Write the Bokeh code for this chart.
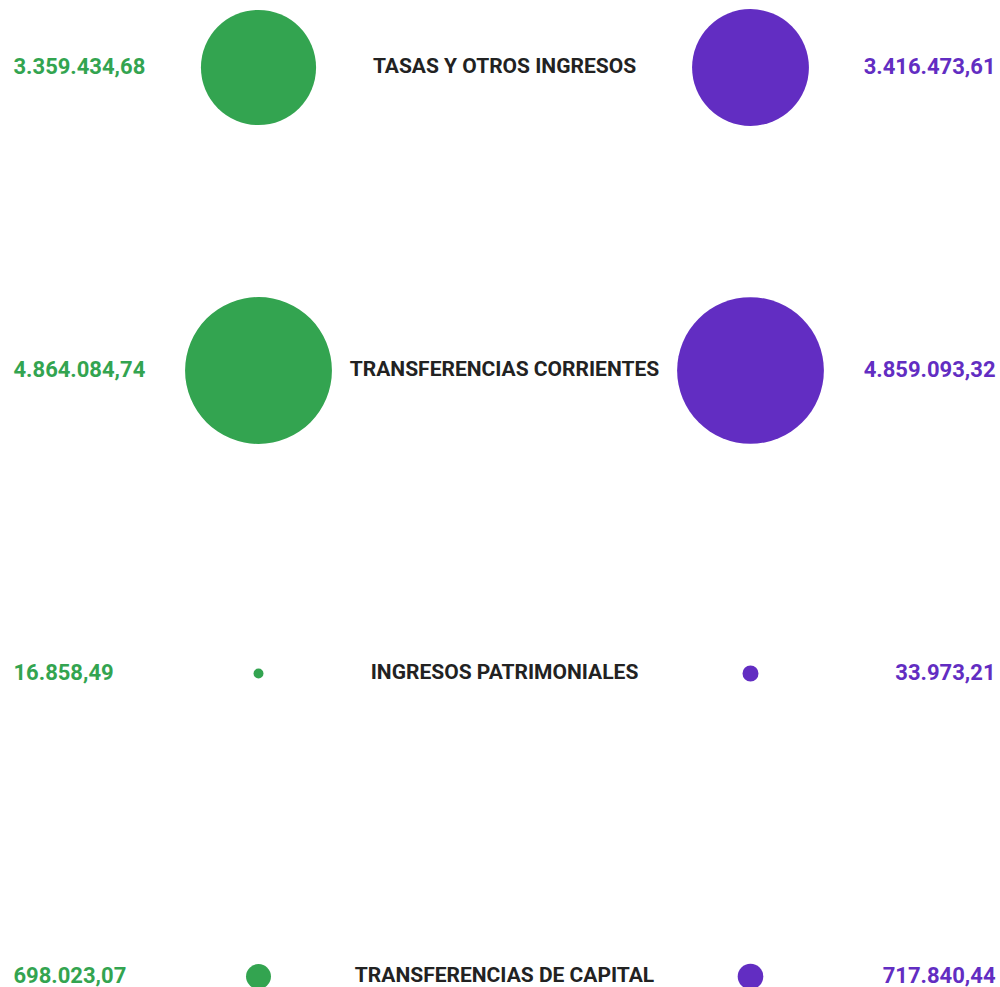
import numpy as np
from bokeh.plotting import figure
from bokeh.models import ColumnDataSource, Range1d
from bokeh.core.properties import value
from bokeh.embed import file_html
from bokeh.resources import INLINE

# ---------------- data ----------------
categories = ["TASAS Y OTROS INGRESOS", "TRANSFERENCIAS CORRIENTES",
              "INGRESOS PATRIMONIALES", "TRANSFERENCIAS DE CAPITAL"]
left_values = [3359434.68, 4864084.74, 16858.49, 698023.07]     # green series
right_values = [3416473.61, 4859093.32, 33973.21, 717840.44]    # purple series

# ---------------- styling / layout ----------------
GREEN = "#33a450"
PURPLE = "#622dc2"
DARK = "#222222"
FONT = "Roboto"

# polylinear size scale (value -> circle diameter in px)
SIZE_DOMAIN = [0, 34000, 700000, 3400000, 4870000]
SIZE_RANGE = [4, 16, 25, 116.5, 147]


def size_scale(v):
    return list(np.interp(np.asarray(v, dtype=float), SIZE_DOMAIN, SIZE_RANGE))


def fmt_es(v):
    s = f"{v:,.2f}"
    return s.replace(",", "X").replace(".", ",").replace("X", ".")


rows = list(range(len(categories)))
n = len(rows)

src = ColumnDataSource(dict(
    row=rows,
    cat=categories,
    lval=left_values,
    rval=right_values,
    ltxt=[fmt_es(v) for v in left_values],
    rtxt=[fmt_es(v) for v in right_values],
    lsize=size_scale(left_values),
    rsize=size_scale(right_values),
    xl_text=[13] * n,
    xl_circ=[258] * n,
    xc=[504] * n,
    xr_circ=[750] * n,
    xr_text=[995] * n,
))

W, H = 1000, 987
ROW_PX = 303.0
TOP_PX = 67.0
y0 = -TOP_PX / ROW_PX
y1 = y0 + H / ROW_PX

p = figure(width=W, height=H, output_backend="svg", toolbar_location=None,
           x_range=Range1d(0, W), y_range=Range1d(y1, y0),
           min_border=0, outline_line_color=None, background_fill_color="white",
           border_fill_color="white")
p.axis.visible = False
p.xgrid.visible = False
p.ygrid.visible = False

p.scatter(x="xl_circ", y="row", size="lsize", source=src, marker="circle",
          fill_color=GREEN, line_color=None)
p.scatter(x="xr_circ", y="row", size="rsize", source=src, marker="circle",
          fill_color=PURPLE, line_color=None)

p.text(x="xl_text", y="row", text="ltxt", source=src, text_color=GREEN,
       text_font=value(FONT), text_font_style="bold", text_font_size="22px",
       text_align="left", text_baseline="middle", y_offset=-2)
p.text(x="xr_text", y="row", text="rtxt", source=src, text_color=PURPLE,
       text_font=value(FONT), text_font_style="bold", text_font_size="22px",
       text_align="right", text_baseline="middle", y_offset=-2)
p.text(x="xc", y="row", text="cat", source=src, text_color=DARK,
       text_font=value(FONT), text_font_style="bold", text_font_size="21px",
       text_align="center", text_baseline="middle", y_offset=-2)

open("out.html", "w").write(file_html(p, INLINE))
